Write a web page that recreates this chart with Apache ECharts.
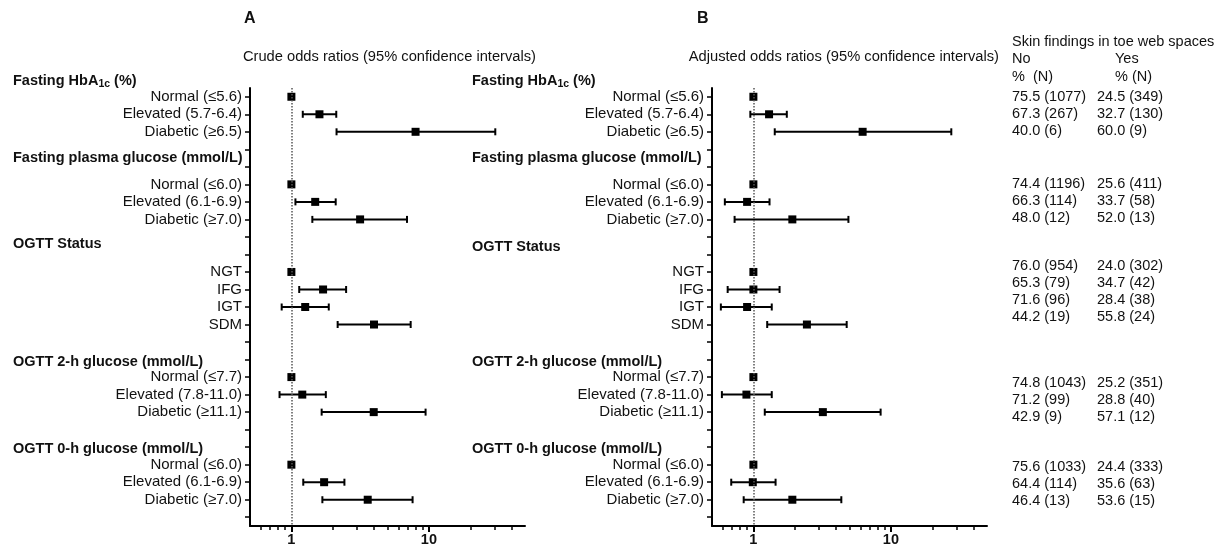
<!DOCTYPE html>
<html>
<head>
<meta charset="utf-8">
<script src="https://cdn.jsdelivr.net/npm/echarts@6/dist/echarts.min.js"></script>
<style>
  html, body { margin: 0; padding: 0; background: #fff; }
  #chart { width: 1223px; height: 547px; }
</style>
</head>
<body>
<div id="chart"></div>
<script>
// rows of the forest plot (top to bottom), blank rows keep the gaps
var rowLabels = ['Normal (≤5.6)', 'Elevated (5.7-6.4)', 'Diabetic (≥6.5)', '', '',
  'Normal (≤6.0)', 'Elevated (6.1-6.9)', 'Diabetic (≥7.0)', '', '',
  'NGT', 'IFG', 'IGT', 'SDM', '', '',
  'Normal (≤7.7)', 'Elevated (7.8-11.0)', 'Diabetic (≥11.1)', '', '',
  'Normal (≤6.0)', 'Elevated (6.1-6.9)', 'Diabetic (≥7.0)', ''];
var rowIds = rowLabels.map(function (l, i) { return 'r' + i; });

// which row each estimate sits on
var dataRows = [0, 1, 2, 5, 6, 7, 10, 11, 12, 13, 16, 17, 18, 21, 22, 23];

// crude odds ratios (panel A)
var crudeOR   = [1, 1.60, 8.0, 1, 1.49, 3.16, 1, 1.70, 1.26, 3.99, 1, 1.20, 3.97, 1, 1.73, 3.59];
var crudeLow  = [1, 1.21, 2.13, 1, 1.07, 1.42, 1, 1.14, 0.85, 2.17, 1, 0.82, 1.66, 1, 1.22, 1.68];
var crudeHigh = [1, 2.12, 30.4, 1, 2.10, 6.93, 1, 2.50, 1.87, 7.37, 1, 1.78, 9.46, 1, 2.43, 7.61];

// adjusted odds ratios (panel B)
var adjOR   = [1, 1.30, 6.23, 1, 0.90, 1.92, 1, 1.00, 0.90, 2.45, 1, 0.89, 3.20, 1, 0.99, 1.92];
var adjLow  = [1, 0.95, 1.43, 1, 0.62, 0.73, 1, 0.65, 0.58, 1.26, 1, 0.59, 1.21, 1, 0.69, 0.85];
var adjHigh = [1, 1.75, 27.5, 1, 1.31, 4.91, 1, 1.55, 1.36, 4.77, 1, 1.36, 8.42, 1, 1.45, 4.36];

var groupTitles = ['{b|Fasting HbA}{s|1c}{b| (%)}', 'Fasting plasma glucose (mmol/L)', 'OGTT Status',
  'OGTT 2-h glucose (mmol/L)', 'OGTT 0-h glucose (mmol/L)'];

// skin findings table
var tableNo = ['75.5 (1077)', '67.3 (267)', '40.0 (6)', '74.4 (1196)', '66.3 (114)', '48.0 (12)',
  '76.0 (954)', '65.3 (79)', '71.6 (96)', '44.2 (19)', '74.8 (1043)', '71.2 (99)', '42.9 (9)',
  '75.6 (1033)', '64.4 (114)', '46.4 (13)'];
var tableYes = ['24.5 (349)', '32.7 (130)', '60.0 (9)', '25.6 (411)', '33.7 (58)', '52.0 (13)',
  '24.0 (302)', '34.7 (42)', '28.4 (38)', '55.8 (24)', '25.2 (351)', '28.8 (40)', '57.1 (12)',
  '24.4 (333)', '35.6 (63)', '53.6 (15)'];
var tableGroups = [3, 3, 4, 3, 3];

var majorTicks = [1, 10];
var minorTicks = [0.6, 0.7, 0.8, 0.9, 2, 3, 4, 5, 6, 7, 8, 9, 20, 30, 40];

var FONT = '"Liberation Sans", Arial, Helvetica, sans-serif';
var INK = '#111';

var chart = echarts.init(document.getElementById('chart'));

function ciData(low, high) {
    return dataRows.map(function (r, i) { return [low[i], high[i], r]; });
}
function pointData(or) {
    return dataRows.map(function (r, i) { return [or[i], r]; });
}

// whisker with end caps
function renderCI(params, api) {
    var lo = api.coord([api.value(0), api.value(2)]);
    var hi = api.coord([api.value(1), api.value(2)]);
    if (hi[0] - lo[0] < 1) return null;
    var cap = 3.5;
    var ls = { stroke: '#000', lineWidth: 2 };
    return {
        type: 'group', children: [
            { type: 'line', shape: { x1: lo[0], y1: lo[1], x2: hi[0], y2: hi[1] }, style: ls },
            { type: 'line', shape: { x1: lo[0], y1: lo[1] - cap, x2: lo[0], y2: lo[1] + cap }, style: ls },
            { type: 'line', shape: { x1: hi[0], y1: hi[1] - cap, x2: hi[0], y2: hi[1] + cap }, style: ls }
        ]
    };
}

function xAxesFor(gridIndex) {
    return [{
        type: 'log', logBase: 10, gridIndex: gridIndex, min: 0.5, max: 50,
        axisLine: { show: true, onZero: false, lineStyle: { color: '#000', width: 2 } },
        axisTick: { show: true, customValues: majorTicks, length: 6, lineStyle: { color: '#000', width: 2 } },
        axisLabel: { customValues: majorTicks, color: INK, fontWeight: 'bold', fontSize: 14.5, fontFamily: FONT, margin: 6 },
        splitLine: { show: false }
    }, {
        type: 'log', logBase: 10, gridIndex: gridIndex, min: 0.5, max: 50, position: 'bottom',
        axisLine: { show: false, onZero: false },
        axisTick: { show: true, customValues: minorTicks, length: 4, lineStyle: { color: '#000', width: 1.5 } },
        axisLabel: { show: false },
        splitLine: { show: false }
    }];
}

function yAxisFor(gridIndex) {
    return {
        type: 'category', gridIndex: gridIndex, data: rowIds, inverse: true,
        axisLine: { show: true, onZero: false, lineStyle: { color: '#000', width: 2 } },
        axisTick: { show: true, alignWithLabel: true, interval: 0, length: 5, lineStyle: { color: '#000', width: 1.5 } },
        axisLabel: {
            interval: 0, margin: 8, color: INK, fontSize: 15, fontFamily: FONT,
            formatter: function (v, i) { return rowLabels[i]; }
        },
        splitLine: { show: false }
    };
}

var refLine = {
    silent: true, symbol: ['none', 'none'], label: { show: false },
    lineStyle: { type: 'dotted', color: '#555', width: 1.5 },
    data: [{ xAxis: 1 }]
};

// text pieces: headings, panel letters, table
var graphics = [];
var headingY = [[81, 158, 244, 362, 449], [81, 158, 247, 362, 449]];
[13, 472].forEach(function (x0, p) {
    groupTitles.forEach(function (t, i) {
        graphics.push({
            type: 'text', x: x0, y: headingY[p][i],
            style: {
                text: i === 0 ? t : '{b|' + t + '}', verticalAlign: 'middle', fill: INK,
                rich: {
                    b: { fontSize: 14.5, fontWeight: 'bold', fontFamily: FONT, fill: INK },
                    s: { fontSize: 10.5, fontWeight: 'bold', fontFamily: FONT, fill: INK, padding: [7, 0, 0, 0] }
                }
            }
        });
    });
});
graphics.push({ type: 'text', x: 244, y: 19, style: { text: 'A', font: 'bold 16px ' + FONT, fill: INK, verticalAlign: 'middle' } });
graphics.push({ type: 'text', x: 697, y: 19, style: { text: 'B', font: 'bold 16px ' + FONT, fill: INK, verticalAlign: 'middle' } });
graphics.push({ type: 'text', x: 536, y: 57, style: { text: 'Crude odds ratios (95% confidence intervals)', font: '14.7px ' + FONT, fill: INK, align: 'right', verticalAlign: 'middle' } });
graphics.push({ type: 'text', x: 999, y: 57, style: { text: 'Adjusted odds ratios (95% confidence intervals)', font: '14.7px ' + FONT, fill: INK, align: 'right', verticalAlign: 'middle' } });

var colNo = 1012, colYes = 1097;
graphics.push({ type: 'text', x: colNo, y: 42, style: { text: 'Skin findings in toe web spaces', font: '14.5px ' + FONT, fill: INK, verticalAlign: 'middle' } });
graphics.push({ type: 'text', x: colNo, y: 59, style: { text: 'No', font: '14.5px ' + FONT, fill: INK, verticalAlign: 'middle' } });
graphics.push({ type: 'text', x: colNo + 103, y: 59, style: { text: 'Yes', font: '14.5px ' + FONT, fill: INK, verticalAlign: 'middle' } });
graphics.push({ type: 'text', x: colNo, y: 77, style: { text: '%  (N)', font: '14.5px ' + FONT, fill: INK, verticalAlign: 'middle' } });
graphics.push({ type: 'text', x: colNo + 103, y: 77, style: { text: '% (N)', font: '14.5px ' + FONT, fill: INK, verticalAlign: 'middle' } });

var groupTop = [97, 184, 266, 383, 467];
var k = 0;
tableGroups.forEach(function (n, g) {
    for (var j = 0; j < n; j++, k++) {
        var y = groupTop[g] + j * 17;
        graphics.push({ type: 'text', x: colNo, y: y, style: { text: tableNo[k], font: '14.5px ' + FONT, fill: INK, verticalAlign: 'middle' } });
        graphics.push({ type: 'text', x: colYes, y: y, style: { text: tableYes[k], font: '14.5px ' + FONT, fill: INK, verticalAlign: 'middle' } });
    }
});

function panelSeries(name, xi, yi, low, or, high) {
    return [{
        name: name + ' CI', type: 'custom', xAxisIndex: xi, yAxisIndex: yi,
        renderItem: renderCI, encode: { x: [0, 1], y: 2 },
        data: ciData(low, high), z: 2
    }, {
        name: name, type: 'scatter', xAxisIndex: xi, yAxisIndex: yi,
        symbol: 'rect', symbolSize: 8, itemStyle: { color: '#000', opacity: 1 },
        data: pointData(or), z: 3,
        markLine: refLine
    }];
}

var option = {
    animation: false,
    backgroundColor: '#fff',
    textStyle: { fontFamily: FONT },
    grid: [
        { left: 250, top: 88, width: 275, height: 440 },
        { left: 712, top: 88, width: 275, height: 440 }
    ],
    xAxis: xAxesFor(0).concat(xAxesFor(1)),
    yAxis: [yAxisFor(0), yAxisFor(1)],
    graphic: graphics,
    series: panelSeries('Crude', 0, 0, crudeLow, crudeOR, crudeHigh)
        .concat(panelSeries('Adjusted', 2, 1, adjLow, adjOR, adjHigh))
};

chart.setOption(option);
</script>
</body>
</html>
